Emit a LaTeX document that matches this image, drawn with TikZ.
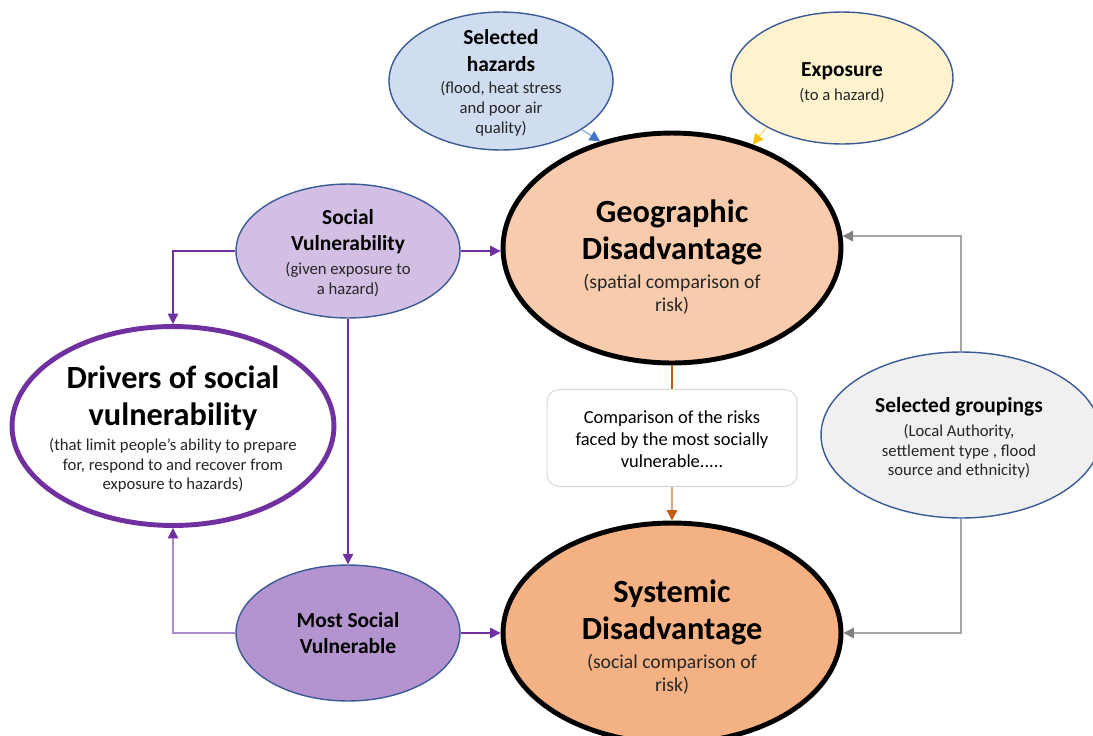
\documentclass[tikz,border=0pt]{standalone}
\usepackage{fontspec}
\setmainfont{Carlito}
\usetikzlibrary{arrows.meta,shapes.geometric}

\definecolor{hazfill}{HTML}{D0DCEF}
\definecolor{expfill}{HTML}{FFF2CC}
\definecolor{geofill}{HTML}{F8CBAD}
\definecolor{sysfill}{HTML}{F4B183}
\definecolor{socvfill}{HTML}{D3BFE3}
\definecolor{mostfill}{HTML}{B394CE}
\definecolor{grpfill}{HTML}{F0F0F0}
\definecolor{ovalblue}{HTML}{3A5A98}
\definecolor{vulpurple}{HTML}{7030A0}
\definecolor{lightpurple}{HTML}{A98BC9}
\definecolor{hazline}{HTML}{8FAADC}
\definecolor{hazhead}{HTML}{4472C4}
\definecolor{expline}{HTML}{FFD966}
\definecolor{exphead}{HTML}{FFC000}
\definecolor{rustline}{HTML}{C55A11}
\definecolor{rustlight}{HTML}{E0A27A}
\definecolor{boxgray}{HTML}{D9D9D9}
\definecolor{grayline}{HTML}{A6A6A6}
\definecolor{grayhead}{HTML}{808080}
\definecolor{subgray}{HTML}{262626}

\newcommand{\bigtitle}{\fontsize{18.4}{21.5}\selectfont\bfseries}
\newcommand{\midtitle}{\fontsize{12.2}{15}\selectfont\bfseries}
\newcommand{\subnote}{\fontsize{9.5}{11.3}\selectfont\mdseries\color{subgray}}
\newcommand{\risknote}{\fontsize{11.2}{13.6}\selectfont\mdseries\color{subgray}}

\begin{document}
\begin{tikzpicture}[x=0.02cm, y=-0.02cm]
\tikzstyle{oval}=[ellipse, draw=ovalblue, line width=0.8pt, inner sep=0pt]
\tikzstyle{bigoval}=[ellipse, line width=2.8pt, inner sep=0pt]
\tikzstyle{Soval}=[oval, minimum width=4.48cm, minimum height=2.7cm]
\tikzstyle{Loval}=[bigoval, draw=black, minimum width=6.76cm]
\tikzstyle{words}=[align=flush center, text width=6cm, inner sep=0pt]
\tikzstyle{link}=[line width=0.7pt]
\tikzstyle{purplelink}=[link, draw=vulpurple, -{Triangle[length=6pt, width=6pt]}]

\useasboundingbox (0,0) rectangle (1093,735);
\clip (0,0) rectangle (1093,735);

% top row
\node[Soval, fill=hazfill, minimum height=2.76cm] (hazards) at (501,81) {};
\node[words] (hazardstext) at (501,83)
  {\midtitle Selected\\hazards\par\vspace{1.7pt}\subnote (flood, heat stress\\and poor air\\quality)\par};
\node[oval, fill=expfill, minimum width=4.44cm, minimum height=2.64cm] (exposure) at (842,78) {};
\node[words] (exposuretext) at (842,83)
  {\midtitle Exposure\par\vspace{2.3pt}\subnote (to a hazard)\par};

% the two disadvantages
\node[Loval, fill=geofill, minimum height=4.6cm] (geo) at (672,248) {};
\node[words] (geotext) at (672,257)
  {\bigtitle Geographic\\Disadvantage\par\vspace{2.5pt}\risknote (spatial comparison of\\risk)\par};
\node[Loval, fill=sysfill, minimum height=4.4cm] (sys) at (672,633) {};
\node[words] (systext) at (672,637)
  {\bigtitle Systemic\\Disadvantage\par\vspace{2.5pt}\risknote (social comparison of\\risk)\par};
\node[draw=boxgray, line width=0.6pt, rounded corners=7pt, fill=white, minimum width=5cm, minimum height=1.94cm] (compare) at (672,438) {};
\node[words] (comparetext) at (672,439)
  {\fontsize{10.5}{12.5}\selectfont Comparison of the risks\\faced by the most socially\\vulnerable.....\par};

% social side
\node[Soval, fill=socvfill, minimum height=2.68cm] (socv) at (348,251) {};
\node[words] (socvtext) at (348,253)
  {\midtitle Social\\Vulnerability\par\vspace{2.3pt}\subnote (given exposure to\\a hazard)\par};
\node[bigoval, draw=vulpurple, fill=white, minimum width=6.44cm, minimum height=3.98cm] (drivers) at (173,426) {};
\node[words] (driverstext) at (173,429)
  {\bigtitle Drivers of social\\vulnerability\par\vspace{2.5pt}\subnote (that limit people’s ability to prepare\\for, respond to and recover from\\exposure to hazards)\par};
\node[Soval, fill=mostfill, minimum height=2.72cm] (mostsoc) at (348,633) {};
\node[words] (mostsoctext) at (348,633)
  {\midtitle Most Social\\Vulnerable\par};

% groupings
\node[oval, fill=grpfill, minimum width=5.6cm, minimum height=3.32cm] (groups) at (961,435) {};
\node[words] (groupstext) at (959,438)
  {\midtitle Selected groupings\par\vspace{2.3pt}\subnote (Local Authority,\\settlement type , flood\\source and ethnicity)\par};

% connectors
\draw[link, draw=hazline, -{Triangle[length=6pt, width=6pt, color=hazhead]}] (hazards.-31) -- (geo.124);
\draw[link, draw=expline, -{Triangle[length=6pt, width=6pt, color=exphead]}] (exposure.-147) -- (geo.52);
\draw[purplelink] (socv.east) -- (socv.east -| geo.west);
\draw[purplelink] (socv.west) -| (drivers.north);
\draw[purplelink] (socv.south) -- (mostsoc.north);
\draw[purplelink, draw=lightpurple, -{Triangle[length=6pt, width=6pt, color=vulpurple]}] (mostsoc.west) -| (drivers.south);
\draw[purplelink] (mostsoc.east) -- (mostsoc.east -| sys.west);
\draw[link, draw=rustline] (geo.south) -- (compare.north);
\draw[link, draw=rustlight, -{Triangle[length=6pt, width=6pt, color=rustline]}] (compare.south) -- (sys.north);
\draw[link, draw=grayline, -{Triangle[length=6pt, width=6pt, color=grayhead]}] (groups.north) |- (geo.4);
\draw[link, draw=grayline, -{Triangle[length=6pt, width=6pt, color=grayhead]}] (groups.south) |- (sys.east);
\end{tikzpicture}
\end{document}
